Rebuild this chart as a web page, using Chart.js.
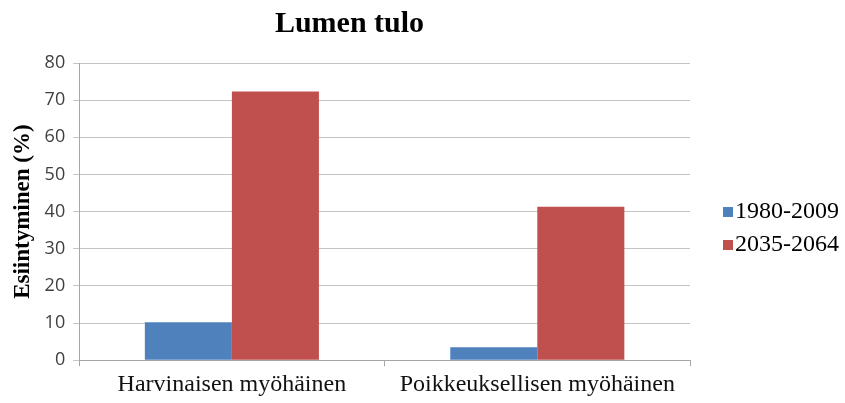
<!DOCTYPE html>
<html>
<head>
<meta charset="utf-8">
<script src="https://cdn.jsdelivr.net/npm/chart.js@4.4.1/dist/chart.umd.min.js"></script>
<style>
  body { margin: 0; background: #fff; }
  #wrap { position: relative; width: 845px; height: 403px; }
  #legend { position: absolute; left: 723px; top: 196px; font-family: "Liberation Serif", serif; font-size: 24px; color: #000; }
  #legend div { height: 33px; line-height: 28px; white-space: nowrap; }
  #legend span { display: inline-block; width: 10px; height: 10px; margin-right: 2px; vertical-align: 1px; }
</style>
</head>
<body>
<div id="wrap">
  <canvas id="chart" width="845" height="403"></canvas>
  <div id="legend"></div>
</div>
<script>
var categories = ["Harvinaisen myöhäinen", "Poikkeuksellisen myöhäinen"];
var seriesNames = ["1980-2009", "2035-2064"];
var values1980 = [10.2, 3.5];
var values2035 = [72.3, 41.3];
var colors = ["#4F81BD", "#C0504D"];

var chart = new Chart(document.getElementById("chart"), {
    type: 'bar',
    data: {
        labels: categories,
        datasets: [
            { label: seriesNames[0], data: values1980, backgroundColor: colors[0] },
            { label: seriesNames[1], data: values2035, backgroundColor: colors[1] }
        ]
    },
    options: {
        responsive: false,
        animation: false,
        layout: { padding: { left: 9, right: 155, top: 0, bottom: 0 } },
        datasets: { bar: { categoryPercentage: 0.57, barPercentage: 1.0 } },
        plugins: {
            legend: { display: false },
            tooltip: { enabled: false },
            title: {
                display: true,
                text: 'Lumen tulo',
                color: '#000',
                font: { family: 'Liberation Serif', size: 30, weight: 'bold' },
                padding: { top: 6, bottom: 21 }
            }
        },
        scales: {
            x: {
                grid: { offset: true, drawOnChartArea: false, drawTicks: true, tickLength: 6, color: '#a6a6a6' },
                border: { color: '#a6a6a6' },
                ticks: { color: '#111', padding: 4, font: { family: 'Liberation Serif', size: 24 } }
            },
            y: {
                min: 0,
                max: 80,
                ticks: { stepSize: 10, color: '#404040', padding: 8, font: { family: 'Open Sans', size: 18 } },
                grid: { color: '#c4c4c4', tickLength: 6 },
                border: { color: '#a6a6a6' },
                title: {
                    display: true,
                    text: 'Esiintyminen (%)',
                    color: '#000',
                    font: { family: 'Liberation Serif', size: 23, weight: 'bold' },
                    padding: { top: 0, bottom: 0 }
                }
            }
        }
    }
});

var legend = document.getElementById('legend');
seriesNames.forEach(function (name, i) {
    legend.innerHTML += '<div><span style="background:' + colors[i] + '"></span>' + name + '</div>';
});
</script>
</body>
</html>
